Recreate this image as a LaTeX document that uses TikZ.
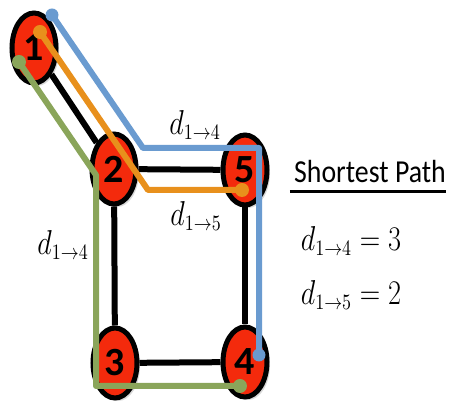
\documentclass[tikz,border=0pt]{standalone}
\usepackage{fontspec}
\setsansfont{Carlito}
\usetikzlibrary{shapes.geometric,shadows}
\definecolor{vertred}{HTML}{F42A0C}
\definecolor{pathblue}{HTML}{6A9BD0}
\definecolor{pathorange}{HTML}{E8901C}
\definecolor{pathgreen}{HTML}{8AA55A}

\begin{document}
\begin{tikzpicture}[x=0.5pt,y=-0.5pt,
    vert/.style={ellipse,draw,line width=2.5pt,fill=vertred,minimum width=22pt,minimum height=35pt,inner sep=0pt,
      font=\sffamily\bfseries\fontsize{20}{23}\selectfont,
      drop shadow={opacity=0.3,shadow xshift=1.5pt,shadow yshift=-1.5pt}},
    link/.style={line width=3pt},
    route/.style={line width=3pt,line join=round},
    tip/.style={circle,inner sep=0pt,minimum size=6.5pt,fill=#1},
    lab/.style={font=\fontsize{16}{19}\selectfont,xscale=0.82}]
    \useasboundingbox (0,0) rectangle (451,405);

    \node[vert] (n1) at (34,48) {1};
    \node[vert] (n2) at (114,169) {2};
    \node[vert] (n5) at (245,170) {5};
    \node[vert] (n3) at (115,363) {3};
    \node[vert] (n4) at (245,362) {4};
    \draw[link] (n1)--(n2);
    \draw[link] (n2)--(n5);
    \draw[link] (n2)--(n3);
    \draw[link] (n5)--(n4);
    \draw[link] (n3)--(n4);

    \node[tip=pathblue] (bs) at (52,15) {};
    \coordinate (bk) at (143,148);
    \node[tip=pathblue] (be) at (259,355) {};
    \draw[route,pathblue] (bs.center)--(bk)-|(be.center);

    \node[tip=pathorange,minimum size=7pt] (os) at (40,32) {};
    \coordinate (ok) at (148,190);
    \node[tip=pathorange,minimum size=7pt] (oe) at (242,190) {};
    \draw[route,pathorange] (os.center)--(ok)--(oe.center);

    \node[tip=pathgreen,minimum size=7pt] (gs) at (19,62) {};
    \coordinate (gk) at (96,175);
    \node[tip=pathgreen,minimum size=7pt] (ge) at (240,386) {};
    \draw[route,pathgreen] (gs.center)--(gk)|-(ge.center);

    \node[lab] (d14top) at (195,125) {$d_{1\to4}$};
    \node[lab] (d15) at (196,216) {$d_{1\to5}$};
    \node[lab] (d14left) at (63,245) {$d_{1\to4}$};

    \node[font=\sffamily\fontsize{16}{19}\selectfont,xscale=0.87,inner sep=0pt] (title) at (370,172) {Shortest Path};
    \draw[line width=1.5pt] ([xshift=-2pt,yshift=-4pt]title.south west)--([yshift=-4pt]title.south east);
    \node[lab] (eq14) at (351,241) {$d_{1\to4}=3$};
    \node[lab] (eq15) at (351,295) {$d_{1\to5}=2$};
  \end{tikzpicture}
\end{document}
